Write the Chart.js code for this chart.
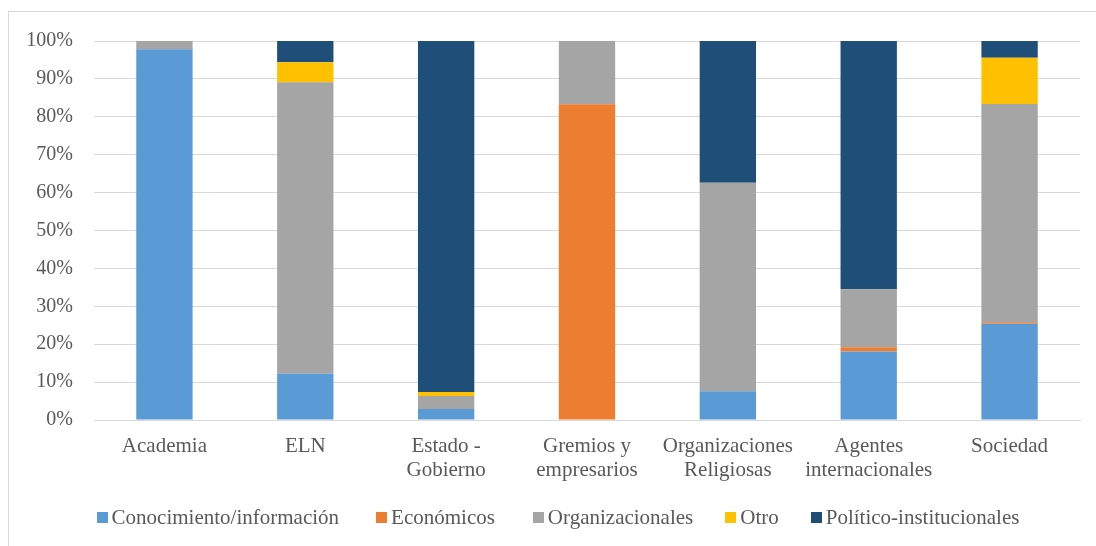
<!DOCTYPE html>
<html>
<head>
<meta charset="utf-8">
<script src="https://cdn.jsdelivr.net/npm/chart.js@4/dist/chart.umd.min.js"></script>
<style>
html,body{margin:0;padding:0;background:#fff;}
#wrap{width:1096px;height:546px;position:relative;}
</style>
</head>
<body>
<div id="wrap"><canvas id="c" width="1096" height="546"></canvas></div>
<script>
const categories = [
  "Academia",
  "ELN",
  ["Estado -", "Gobierno"],
  ["Gremios y", "empresarios"],
  ["Organizaciones", "Religiosas"],
  ["Agentes", "internacionales"],
  "Sociedad"
];
const conocimiento = [97.8, 12.2, 2.9, 0, 7.6, 18.1, 25.4];
const economicos   = [0, 0, 0, 83.3, 0, 1.1, 0.4];
const organizacionales = [2.2, 76.9, 3.4, 16.7, 55.0, 15.3, 57.6];
const otro         = [0, 5.3, 1.1, 0, 0, 0, 12.2];
const politico     = [0, 5.6, 92.6, 0, 37.4, 65.5, 4.4];
const seriesNames = ["Conocimiento/información", "Económicos", "Organizacionales", "Otro", "Político-institucionales"];
const yTicks = [0, 10, 20, 30, 40, 50, 60, 70, 80, 90, 100];

const colors = ["#5B9BD5", "#ED7D31", "#A5A5A5", "#FFC000", "#1F4E79"];
const seriesData = [conocimiento, economicos, organizacionales, otro, politico];

const FAMILY = "'Liberation Serif', 'Times New Roman', serif";

const borderPlugin = {
  id: 'outerBorder',
  beforeDraw(chart) {
    const ctx = chart.ctx;
    ctx.save();
    ctx.fillStyle = '#fff';
    ctx.fillRect(0, 0, chart.width, chart.height);
    ctx.strokeStyle = '#D9D9D9';
    ctx.lineWidth = 1;
    ctx.strokeRect(8.5, 11.5, chart.width + 20, chart.height + 20);
    ctx.restore();
  }
};

// custom legend drawn on canvas, Excel-like spacing
const legendPlugin = {
  id: 'excelLegend',
  afterDraw(chart) {
    const ctx = chart.ctx;
    ctx.save();
    ctx.font = "21px " + FAMILY;
    ctx.textBaseline = 'middle';
    const box = 11, gapText = 4;
    const gaps = [37, 38, 32, 32];
    const ds = chart.data.datasets;
    const widths = ds.map(d => box + gapText + ctx.measureText(d.label).width);
    let total = widths.reduce((a, b) => a + b, 0) + gaps.reduce((a, b) => a + b, 0);
    let x = 558 - total / 2;
    const cy = 518;
    ds.forEach((d, i) => {
      ctx.fillStyle = d.backgroundColor;
      ctx.fillRect(Math.round(x), cy - 6, box, box);
      ctx.fillStyle = '#595959';
      ctx.fillText(d.label, x + box + gapText, cy);
      x += widths[i] + (gaps[i] || 0);
    });
    ctx.restore();
  }
};

new Chart(document.getElementById('c'), {
  type: 'bar',
  data: {
    labels: categories,
    datasets: seriesData.map((d, i) => ({
      label: seriesNames[i],
      data: d,
      backgroundColor: colors[i],
      borderWidth: 0,
      barPercentage: 0.4,
      categoryPercentage: 1.0
    }))
  },
  options: {
    responsive: false,
    animation: false,
    devicePixelRatio: 1,
    layout: {padding: {left: 8, right: 16, top: 41, bottom: 0}},
    plugins: {
      legend: {display: false},
      tooltip: {enabled: false}
    },
    scales: {
      x: {
        stacked: true,
        afterFit(axis) { axis.height = 126; },
        grid: {display: false, drawTicks: false},
        border: {display: true, color: '#D9D9D9', width: 1},
        ticks: {font: {family: FAMILY, size: 21, lineHeight: 1.15}, color: '#595959', padding: 14, maxRotation: 0, autoSkip: false}
      },
      y: {
        stacked: true,
        min: 0,
        max: 100,
        afterBuildTicks(axis) { axis.ticks = yTicks.map(v => ({value: v})); },
        afterFit(axis) { axis.width = 86; },
        grid: {color: '#D9D9D9', lineWidth: 1, drawTicks: false},
        border: {display: false},
        ticks: {font: {family: FAMILY, size: 20}, color: '#595959', padding: 21, callback: v => v + '%'}
      }
    }
  },
  plugins: [borderPlugin, legendPlugin]
});
</script>
</body>
</html>
